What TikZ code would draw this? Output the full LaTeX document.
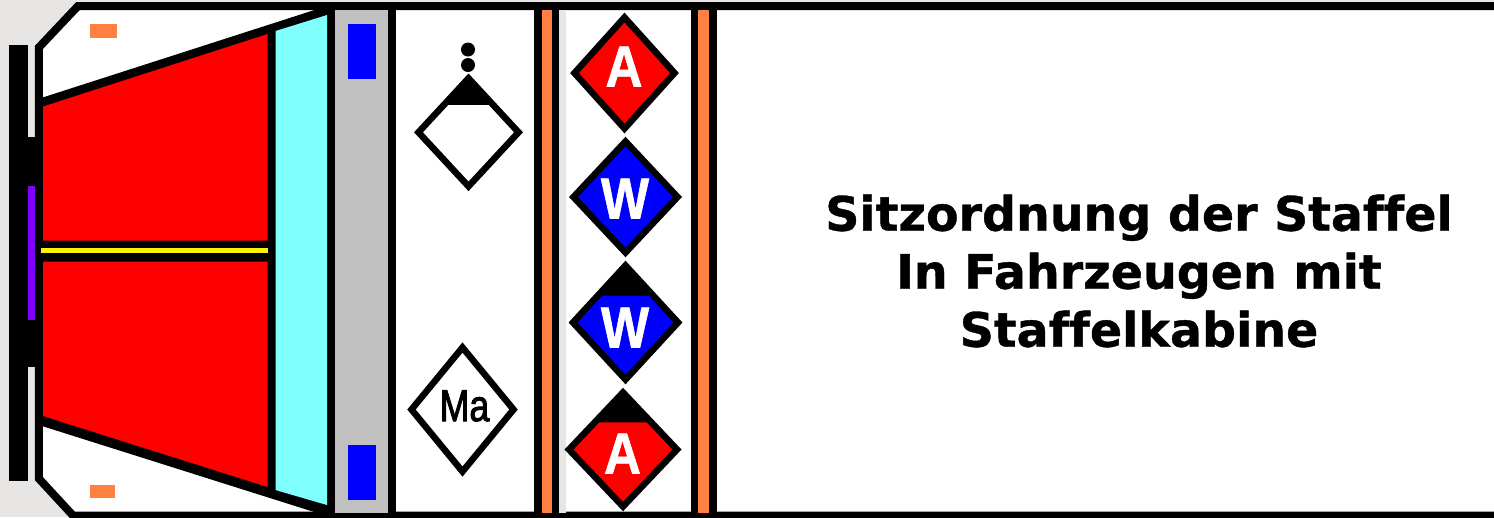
\documentclass[tikz,border=0pt]{standalone}
\usepackage{fontspec}
\usepackage{xcolor}
\usetikzlibrary{shapes.geometric,calc}
\setmainfont{Liberation Sans}
\newfontfamily\titlefont[Ligatures=NoCommon,BoldFeatures={FakeBold=0.8}]{DejaVu Sans}
\newfontfamily\narrowfont[FakeStretch=0.8,FakeBold=2]{Liberation Sans}
\newfontfamily\letterfont[FakeStretch=0.88,BoldFeatures={FakeBold=1}]{Liberation Sans}

\definecolor{outside}{HTML}{E8E6E4}
\definecolor{panelgray}{HTML}{C0C0C0}
\definecolor{seatorange}{HTML}{FF8040}
\definecolor{glass}{HTML}{80FFFF}
\definecolor{crewblue}{HTML}{0000FF}
\definecolor{lightviolet}{HTML}{8000FF}

\tikzset{
	seat/.style={draw=black, diamond, inner sep=0pt, outer sep=0pt, line width=0.065cm},
	seatletter/.style={text=white, inner sep=0pt, font=\letterfont\fontsize{16.5}{16.5}\selectfont\bfseries},
	seatdot/.style={circle, fill=black, inner sep=0pt, minimum size=0.14cm},
	bodyline/.style={draw=black, line width=0.08cm, line join=miter},
}

\begin{document}
\begin{tikzpicture}[x=0.01cm,y=-0.01cm]
		\useasboundingbox (0,0) rectangle (1494,517);
		\fill[outside] (0,0) rectangle (1494,517);

		% vehicle body
		\draw[bodyline, fill=white] (1494,6) -- (78,6) -- (38.8,47.5) -- (38.8,478.5) -- (73,515.5) -- (1494,515.5);
		\fill (9.3,45) rectangle (28,481);
		\fill (28,137) rectangle (38,367);
		\fill[lightviolet] (28,186) rectangle (35,320);

		% cab
		\fill (42,97.7) -- (330,5) -- (335,5) -- (335,517) -- (330,517) -- (42,426) -- cycle;
		\fill[red] (43,106.5) -- (267.5,34) -- (267.5,240.5) -- (43,240.5) -- cycle;
		\fill[red] (43,261.5) -- (267.5,261.5) -- (267.5,487) -- (43,416) -- cycle;
		\fill[yellow] (41,247.5) rectangle (267.5,253);
		\fill[glass] (275.5,31) -- (327,15) -- (327,505) -- (275.5,490) -- cycle;
		\fill[seatorange] (90,24) rectangle (117,37.5);
		\fill[seatorange] (90,485) rectangle (115,498);

		% gray strip
		\fill[panelgray] (335,10) rectangle (388,513);
		\fill (388,5) rectangle (396,514);
		\fill[crewblue] (348,24) rectangle (375.5,79);
		\fill[crewblue] (348,445) rectangle (375.5,500);

		% partitions
		\fill (534,5) rectangle (559,514);
		\fill[seatorange] (541.7,10) rectangle (551.7,513);
		\fill[outside] (559,10) rectangle (565.5,513);
		\fill (690.7,5) rectangle (717,514);
		\fill[seatorange] (698.3,10) rectangle (709.3,513);

		% seats
		\node[seat, fill=white, minimum width=1.00cm, minimum height=1.08cm, shape aspect=0.93] (gf) at (468.5,132.3) {};
		\fill (gf.north) -- ($(gf.north)!0.49!(gf.east)$) -- ($(gf.north)!0.49!(gf.west)$) -- cycle;
		\node[seatdot] (dota) at (468,49.5) {};
		\node[seatdot] (dotb) at (468,65) {};

		\node[seat, fill=white, minimum width=1.02cm, minimum height=1.24cm, shape aspect=0.82] (ma) at (462.5,409.5) {};
		\node[text=black, inner sep=0pt, font=\narrowfont\fontsize{12.7}{12.7}\selectfont] (mal) at (464.5,406) {Ma};

		\node[seat, fill=red, minimum width=1.00cm, minimum height=1.11cm, shape aspect=0.9] (af) at (624.5,73) {};
		\node[seatletter] (afl) at (624,66.5) {A};
		\node[seat, fill=crewblue, minimum width=1.04cm, minimum height=1.11cm, shape aspect=0.94] (wf) at (625.5,197) {};
		\node[seatletter] (wfl) at (625,198.5) {W};

		\node[seat, fill=crewblue, minimum width=1.05cm, minimum height=1.14cm, shape aspect=0.92] (wb) at (625.5,322.5) {};
		\fill (wb.north) -- ($(wb.north)!0.53!(wb.east)$) -- ($(wb.north)!0.53!(wb.west)$) -- cycle;
		\node[seatletter] (wbl) at (625,327.5) {W};

		\node[seat, fill=red, minimum width=1.08cm, minimum height=1.14cm, shape aspect=0.95] (ab) at (623,449.5) {};
		\fill (ab.north) -- ($(ab.north)!0.525!(ab.east)$) -- ($(ab.north)!0.525!(ab.west)$) -- cycle;
		\node[seatletter] (abl) at (622.5,453.5) {A};

		\node[align=center, font=\titlefont\fontsize{13.5}{16.5}\selectfont\bfseries] (title) at (1139,271) {
			Sitzordnung der Staffel\\
			In Fahrzeugen mit\\
			Staffelkabine
		};
	\end{tikzpicture}
\end{document}
